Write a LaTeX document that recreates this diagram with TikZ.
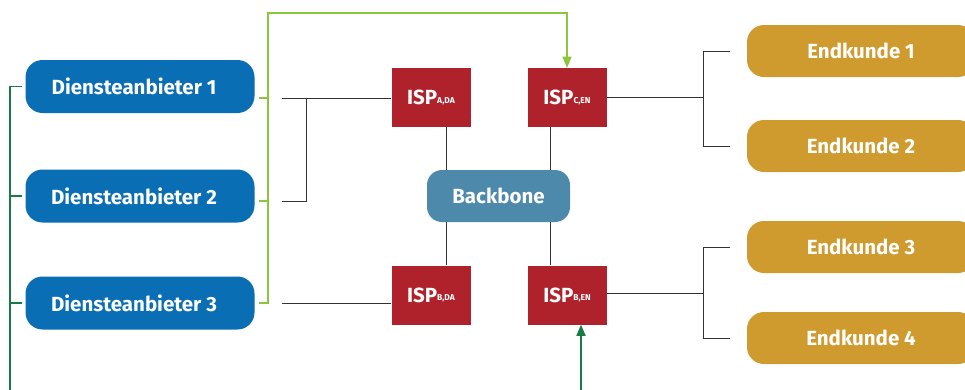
\documentclass[tikz,border=0pt]{standalone}
\usepackage{fontspec}
\setmainfont{Fira Sans}
\usetikzlibrary{arrows}
\definecolor{dtblue}{HTML}{0A6EB4}
\definecolor{dtgold}{HTML}{CF9A2E}
\definecolor{dtred}{HTML}{B0222B}
\definecolor{dtsteel}{HTML}{4D89AB}
\definecolor{dtlgreen}{HTML}{8CC63E}
\definecolor{dtdgreen}{HTML}{1A7A45}
\definecolor{dtline}{HTML}{333333}
\newcommand{\isp}[1]{ISP\raisebox{1.5pt}{\fontsize{8.5}{8.5}\selectfont #1}}
\tikzset{
	box/.style={text=white, inner sep=0pt, font=\bfseries\fontsize{20.5}{20.5}\selectfont},
	anbieter/.style={box, fill=dtblue, rounded corners=17pt, minimum width=229pt, minimum height=53pt},
	kunde/.style={box, fill=dtgold, rounded corners=17pt, minimum width=228pt, minimum height=52pt},
	ispbox/.style={box, fill=dtred, minimum width=79pt, minimum height=59pt},
	lgreen/.style={draw=dtlgreen, line width=1.6pt},
	dgreen/.style={draw=dtdgreen, line width=1.6pt},
	link/.style={draw=dtline, line width=1pt}
}
\begin{document}
\begin{tikzpicture}[x=1pt,y=-1pt]
	\useasboundingbox (0,0) rectangle (965,389);
	\clip (0,0) rectangle (965,389);
	% Anbieter und Endkunden
	\node[anbieter] (d1) at (140,86.5) {Diensteanbieter 1\hspace*{12pt}};
	\node[anbieter] (d2) at (140,196) {Diensteanbieter 2\hspace*{12pt}};
	\node[anbieter] (d3) at (140,303) {Diensteanbieter 3\hspace*{12pt}};
	\node[kunde] (e1) at (861,51) {Endkunde 1};
	\node[kunde] (e2) at (861,146) {Endkunde 2};
	\node[kunde] (e3) at (861,247) {Endkunde 3};
	\node[kunde] (e4) at (861,338) {Endkunde 4};
	% ISPs und Backbone
	\node[ispbox] (ispa) at (431,97.5) {\isp{A,DA}};
	\node[ispbox] (ispc) at (567,97.5) {\isp{C,EN}};
	\node[ispbox] (ispbd) at (431,295) {\isp{B,DA}};
	\node[ispbox] (ispbe) at (567,295) {\isp{B,EN}};
	\node[box, fill=dtsteel, rounded corners=15pt, minimum width=143pt, minimum height=52pt] (bb) at (498.5,196) {Backbone};
	\foreach \n/\s in {ispa/15,ispc/-17}
		\draw[link] ([xshift=\s]\n.south) -- ([xshift=\s]\n.south |- bb.north);
	\foreach \n/\s in {ispbd/15,ispbe/-17}
		\draw[link] ([xshift=\s]\n.north) -- ([xshift=\s]\n.north |- bb.south);
	% Anschluesse links
	\coordinate (b1) at (282,98);
	\coordinate (b2) at (282,201);
	\coordinate (bv) at (306,201);
	\coordinate (b3) at (282,303);
	\draw[link] (b1) -- (b1 -| ispa.west);
	\draw[link] (b2) -- (bv) -- (bv |- b1);
	\draw[link] (b3) -- (b3 -| ispbd.west);
	% Anschluesse rechts
	\coordinate (cv) at (703,97.5);
	\coordinate (cw) at (703,293);
	\draw[link] (ispc.east) -- (cv);
	\draw[link] ([xshift=-17]e1.west) -| (cv) |- ([xshift=-17]e2.west);
	\draw[link] (cw -| ispbe.east) -- (cw);
	\draw[link] ([xshift=-17]e3.west) -| (cw) |- ([xshift=-17]e4.west);
	% gruene Verbindungen
	\coordinate (gtop) at (268,13);
	\coordinate (dlow) at (10,400);
	\draw[lgreen,-triangle 45] ([xshift=4]d3.east) -| (gtop) -| (ispc.north);
	\draw[lgreen] ([xshift=4]d1.east |- b1) -- (gtop |- b1);
	\draw[lgreen] ([xshift=4]d2.east |- bv) -- (gtop |- bv);
	\draw[dgreen,-triangle 45] ([xshift=-3]d1.west) -| (dlow) -| ([xshift=14]ispbe.south);
	\foreach \d in {d2,d3}
		\draw[dgreen] ([xshift=-3]\d.west) -- (dlow |- \d);
\end{tikzpicture}
\end{document}
